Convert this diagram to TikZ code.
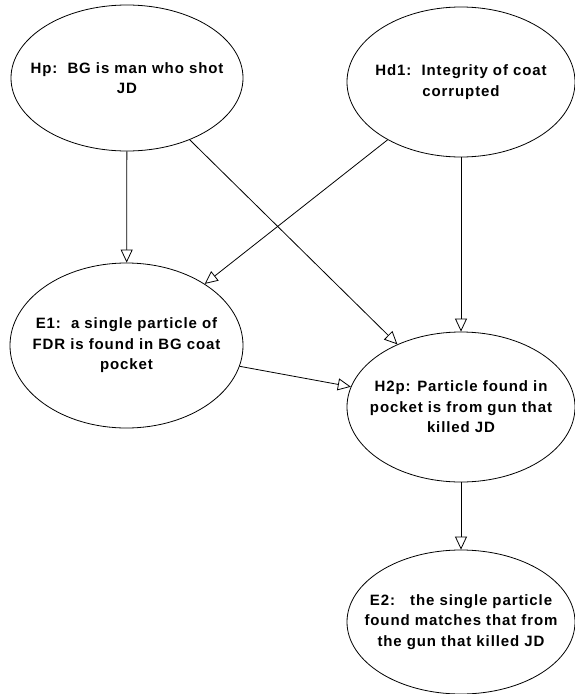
\documentclass[tikz,border=0pt]{standalone}
\usepackage{fontspec}
\setmainfont[LetterSpace=6]{Liberation Sans}
\usetikzlibrary{shapes.geometric,arrows.meta}
\begin{document}
\begin{tikzpicture}[x=1pt,y=-1pt,line join=round,>={Triangle[open,length=13pt,width=12pt]},
  hyp/.style={draw,ellipse,inner sep=0pt,line width=.8pt},
  txt/.style={align=center,font=\fontsize{15}{20.5}\selectfont\bfseries}]
\useasboundingbox (0,0) rectangle (575,694);
\node[hyp,minimum width=232pt,minimum height=146pt,label={[txt]center:{Hp:\ \ BG is man who shot\\JD}}] (Hp) at (127,78) {};
\node[hyp,minimum width=228pt,minimum height=150pt,label={[txt]center:{Hd1:\ \ Integrity of coat\\corrupted}}] (Hd1) at (461,82) {};
\node[hyp,minimum width=233pt,minimum height=165pt,label={[txt]center:{E1:\ \ a single particle of\\FDR is found in BG coat\\pocket}}] (E1) at (126.5,345.5) {};
\node[hyp,minimum width=228pt,minimum height=150pt,label={[txt]center:{H2p: Particle found in\\pocket is from gun that\\killed JD}}] (H2p) at (461,407) {};
\node[hyp,minimum width=228pt,minimum height=144pt,label={[txt]center:{E2:\ \ \ the single particle\\found matches that from\\the gun that killed JD}}] (E2) at (461,622) {};
\foreach \a/\b in {Hp/E1,Hp/H2p,Hd1/E1,Hd1/H2p,E1/H2p,H2p/E2}
\draw[->,line width=.8pt] (\a)--(\b);
\end{tikzpicture}
\end{document}
